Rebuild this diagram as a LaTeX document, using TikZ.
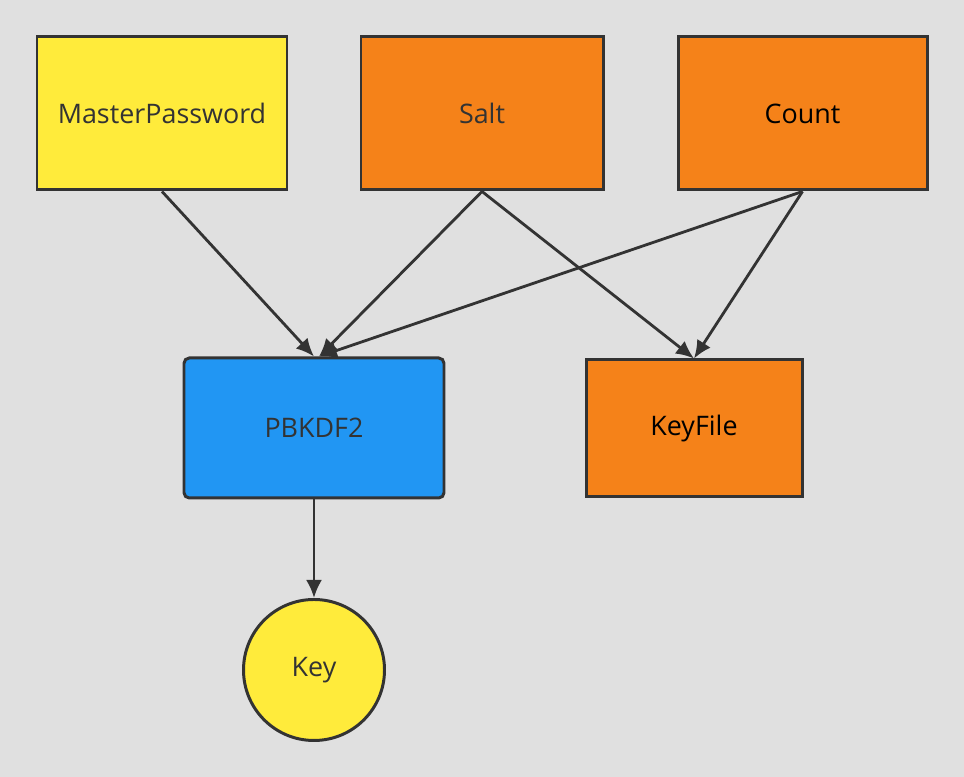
\documentclass[tikz,border=0pt]{standalone}
\usepackage{fontspec}
\setmainfont{Open Sans}
\usetikzlibrary{arrows.meta,calc}
\definecolor{bg}{HTML}{E0E0E0}
\definecolor{edge}{HTML}{333333}
\definecolor{yel}{HTML}{FFEB3B}
\definecolor{ora}{HTML}{F58219}
\definecolor{blu}{HTML}{2196F3}
\tikzset{
  box/.style={draw=edge,line width=1.7pt,minimum height=3.06cm,text=edge,font=\fontsize{15.3}{18}\selectfont},
  flow/.style={draw=edge,line width=1.6pt,-{Latex[length=0.36cm,width=0.32cm]}}
}

\begin{document}
\begin{tikzpicture}
            \fill[bg] (0,0) rectangle (19.28,15.54);
            \useasboundingbox (0,0) rectangle (19.28,15.54);
            \node[box,fill=yel,minimum width=5cm] (mp) at (3.24,13.27) {MasterPassword};
            \node[box,fill=ora,minimum width=4.84cm] (salt) at (9.64,13.27) {Salt};
            \node[box,fill=ora,minimum width=4.98cm,text=black] (count) at (16.05,13.27) {Count};
            \node[box,fill=blu,minimum width=5.2cm,minimum height=2.8cm,rounded corners=3pt] (pbkdf) at (6.28,6.98) {PBKDF2};
            \node[box,fill=ora,minimum width=4.32cm,minimum height=2.74cm,text=black] (keyfile) at (13.88,6.97) {KeyFile};
            \node[box,fill=yel,circle,minimum size=2.82cm,minimum height=0pt] (key) at (6.28,2.14) {Key};
            \coordinate (pin) at ($(pbkdf.north)+(0.1,0)$);
            \draw[flow] (mp.south) -- (pbkdf.north);
            \draw[flow] (salt.south) -- (pin);
            \draw[flow] (count.south) -- (pin);
            \draw[flow] (salt.south) -- (keyfile.north);
            \draw[flow] (count.south) -- (keyfile.north);
            \draw[flow] (pbkdf.south) -- (key.north);
        \end{tikzpicture}
\end{document}
